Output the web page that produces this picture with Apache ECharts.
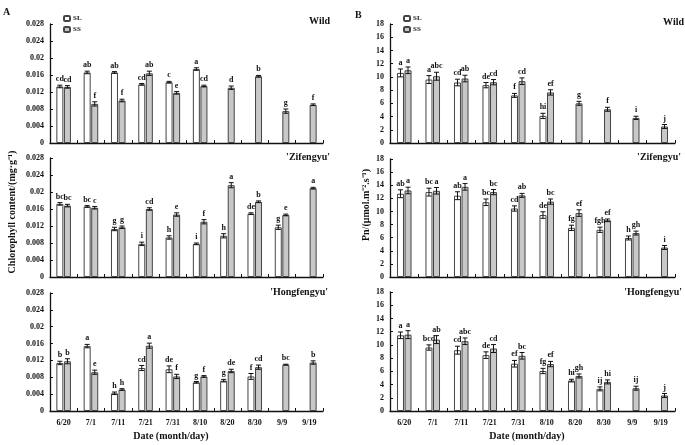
<!DOCTYPE html>
<html><head><meta charset="utf-8">
<script src="https://cdn.jsdelivr.net/npm/echarts@6/dist/echarts.min.js"></script>
<style>html,body{margin:0;padding:0;background:#fff}#c{width:685px;height:445px}</style>
</head><body><div id="c"></div>
<script>
var dates = ['6/20','7/1','7/11','7/21','7/31','8/10','8/20','8/30','9/9','9/19'];
var chlTicks = [0,0.004,0.008,0.012,0.016,0.02,0.024,0.028];
var pnTicks = [0,2,4,6,8,10,12,14,16,18];

// Panel A: chlorophyll content
var chlWildSL = [0.0133,0.0166,0.0166,0.0138,0.0143,0.0174,null,null,null,null];
var chlWildSS = [0.0132,0.0092,0.0100,0.0164,0.0118,0.0134,0.0130,0.0157,0.0075,0.0090];
var chlWildSLErr = [0.0003,0.0003,0.0002,0.0002,0.0002,0.0003,null,null,null,null];
var chlWildSSErr = [0.0003,0.0005,0.0003,0.0005,0.0003,0.0002,0.0004,0.0002,0.0005,0.0002];
var chlWildSLLbl = ['cd','ab','ab','cd','c','a','','','',''];
var chlWildSSLbl = ['cd','f','f','ab','e','cd','d','b','g','f'];

var chlZiSL = [0.0172,0.0166,0.0113,0.0078,0.0093,0.0078,0.0097,0.0149,0.0117,null];
var chlZiSS = [0.0168,0.0163,0.0117,0.0160,0.0147,0.0130,0.0216,0.0177,0.0146,0.0209];
var chlZiSLErr = [0.0003,0.0002,0.0004,0.0004,0.0004,0.0002,0.0005,0.0002,0.0005,null];
var chlZiSSErr = [0.0003,0.0003,0.0003,0.0003,0.0004,0.0005,0.0006,0.0002,0.0002,0.0002];
var chlZiSLLbl = ['bc','bc','g','i','h','i','h','de','g',''];
var chlZiSSLbl = ['bc','c','g','cd','e','f','a','b','e','a'];

var chlHoSL = [0.0114,0.0154,0.0042,0.0102,0.0099,0.0068,0.0072,0.0082,null,null];
var chlHoSS = [0.0118,0.0092,0.0051,0.0155,0.0082,0.0082,0.0095,0.0104,0.0110,0.0115];
var chlHoSLErr = [0.0004,0.0004,0.0003,0.0006,0.0008,0.0002,0.0003,0.0007,null,null];
var chlHoSSErr = [0.0006,0.0005,0.0002,0.0006,0.0005,0.0002,0.0004,0.0005,0.0001,0.0004];
var chlHoSLLbl = ['b','a','h','cd','de','g','g','f','',''];
var chlHoSSLbl = ['b','e','h','a','f','f','de','cd','bc','b'];

// Panel B: net photosynthetic rate
var pnWildSL = [10.6,9.6,9.15,8.75,7.2,4.1,null,null,null,null];
var pnWildSS = [11.0,10.1,9.75,9.2,9.35,7.65,6.0,5.1,3.8,2.5];
var pnWildSLErr = [0.6,0.6,0.5,0.4,0.3,0.4,null,null,null,null];
var pnWildSSErr = [0.5,0.6,0.5,0.4,0.5,0.4,0.3,0.3,0.25,0.3];
var pnWildSLLbl = ['a','a','cd','de','f','hi','','','',''];
var pnWildSSLbl = ['a','abc','ab','cd','cd','ef','g','f','i','j'];

var pnZiSL = [12.7,12.95,12.4,11.4,10.45,9.45,7.5,7.2,5.95,null];
var pnZiSS = [13.2,13.15,13.75,12.95,12.45,11.5,9.75,8.65,6.7,4.5];
var pnZiSLErr = [0.6,0.6,0.6,0.5,0.4,0.5,0.4,0.4,0.3,null];
var pnZiSSErr = [0.5,0.5,0.5,0.4,0.3,0.4,0.5,0.2,0.3,0.3];
var pnZiSLLbl = ['ab','bc','ab','bc','cd','de','fg','fgh','h',''];
var pnZiSSLbl = ['a','a','a','bc','ab','bc','ef','ef','gh','i'];

var pnHoSL = [11.45,9.6,9.2,8.45,7.15,6.05,4.6,3.35,null,null];
var pnHoSS = [11.55,10.8,10.55,9.45,8.35,7.1,5.3,4.4,3.45,2.35];
var pnHoSLErr = [0.5,0.4,0.6,0.5,0.5,0.4,0.2,0.3,null,null];
var pnHoSSErr = [0.6,0.6,0.5,0.6,0.5,0.4,0.3,0.3,0.3,0.3];
var pnHoSLLbl = ['a','bcd','cd','de','ef','fg','hi','ij','',''];
var pnHoSSLbl = ['a','ab','abc','cd','bc','ef','gh','hi','ij','j'];

var FONT = '"Liberation Serif","Times New Roman",serif';
var BW = 7, GAP = 0.08, OFF = (BW + BW*GAP)/2;

var panels = [
  {grid:{left:50,width:273,top:24,height:119}, max:0.028, itv:0.004, lab:false, sl:chlWildSL, ss:chlWildSS, sle:chlWildSLErr, sse:chlWildSSErr, sll:chlWildSLLbl, ssl:chlWildSSLbl},
  {grid:{left:50,width:273,top:158,height:119}, max:0.028, itv:0.004, lab:false, sl:chlZiSL, ss:chlZiSS, sle:chlZiSLErr, sse:chlZiSSErr, sll:chlZiSLLbl, ssl:chlZiSSLbl},
  {grid:{left:50,width:273,top:293,height:118}, max:0.028, itv:0.004, lab:true, sl:chlHoSL, ss:chlHoSS, sle:chlHoSLErr, sse:chlHoSSErr, sll:chlHoSLLbl, ssl:chlHoSSLbl},
  {grid:{left:390,width:285,top:24,height:119}, max:18, itv:2, lab:false, sl:pnWildSL, ss:pnWildSS, sle:pnWildSLErr, sse:pnWildSSErr, sll:pnWildSLLbl, ssl:pnWildSSLbl},
  {grid:{left:390,width:285,top:159,height:118}, max:18, itv:2, lab:false, sl:pnZiSL, ss:pnZiSS, sle:pnZiSLErr, sse:pnZiSSErr, sll:pnZiSLLbl, ssl:pnZiSSLbl},
  {grid:{left:390,width:285,top:292,height:119}, max:18, itv:2, lab:true, sl:pnHoSL, ss:pnHoSS, sle:pnHoSLErr, sse:pnHoSSErr, sll:pnHoSLLbl, ssl:pnHoSSLbl}
];

var grids=[], xAxes=[], yAxes=[], series=[];
function errSeries(gi, vals, errs, lbls, sign){
  var data = [];
  vals.forEach(function(v,i){ if(v!=null) data.push([i, v, errs[i]||0]); });
  return {
    type:'custom', xAxisIndex:gi, yAxisIndex:gi, silent:true, z:5,
    encode:{x:0,y:1},
    data:data,
    renderItem:function(params, api){
      var i = api.value(0), v = api.value(1), e = api.value(2);
      var c = api.coord([i, v]);
      var x = c[0] + sign*OFF;
      var yt = api.coord([i, v+e])[1], yb = api.coord([i, v-e])[1];
      var st = {stroke:'#111', lineWidth:1};
      var ch = [
        {type:'line', shape:{x1:x,y1:yt,x2:x,y2:yb}, style:st},
        {type:'line', shape:{x1:x-2.5,y1:yt,x2:x+2.5,y2:yt}, style:st},
        {type:'line', shape:{x1:x-2.5,y1:yb,x2:x+2.5,y2:yb}, style:st}
      ];
      var t = lbls[i];
      if(t){ ch.push({type:'text', style:{text:t, x:x, y:yt-2, align:'center', verticalAlign:'bottom', font:'bold 8px '+FONT, fill:'#111'}}); }
      return {type:'group', children:ch};
    }
  };
}
panels.forEach(function(p, gi){
  grids.push(p.grid);
  xAxes.push({type:'category', gridIndex:gi, data:dates,
    axisLine:{lineStyle:{color:'#111',width:1.3}},
    axisTick:{show:true, inside:true, length:3, lineStyle:{color:'#111'}},
    axisLabel:{show:p.lab, fontFamily:FONT, fontWeight:'bold', fontSize:8, color:'#111', margin:8}
  });
  yAxes.push({type:'value', gridIndex:gi, min:0, max:p.max, interval:p.itv,
    splitLine:{show:false},
    axisLine:{show:true, lineStyle:{color:'#111',width:1.3}},
    axisTick:{show:true, inside:true, length:3, lineStyle:{color:'#111'}},
    axisLabel:{fontFamily:FONT, fontWeight:'bold', fontSize:8, color:'#111', margin:6}
  });
  series.push({name:'SL', type:'bar', xAxisIndex:gi, yAxisIndex:gi, data:p.sl, barWidth:BW, barGap:(GAP*100)+'%',
    itemStyle:{color:'#ffffff', borderColor:'#444', borderWidth:1}, silent:true});
  series.push({name:'SS', type:'bar', xAxisIndex:gi, yAxisIndex:gi, data:p.ss, barWidth:BW, barGap:(GAP*100)+'%',
    itemStyle:{color:'#c8c8c8', borderColor:'#444', borderWidth:1}, silent:true});
  series.push(errSeries(gi, p.sl, p.sle, p.sll, -1));
  series.push(errSeries(gi, p.ss, p.sse, p.ssl, 1));
});

var tStyle = {fontFamily:FONT, fontWeight:'bold', fontSize:10, color:'#111'};
function txt(t, x, y, align, size, rot){
  return {type:'text', x:x, y:y, rotation:rot||0, style:{text:t, font:'bold '+(size||10)+'px '+FONT, fill:'#111', align:align||'left', verticalAlign:'middle'}};
}
var legendBase = {orient:'vertical', itemWidth:6, itemHeight:5, itemGap:4, selectedMode:false,
  textStyle:{fontFamily:FONT, fontWeight:'bold', fontSize:7, color:'#111', padding:[0,0,0,-2]}, padding:0, data:['SL','SS']};

var option = {
  animation:false,
  grid:grids, xAxis:xAxes, yAxis:yAxes, series:series,
  legend:[
    Object.assign({left:63, top:15}, legendBase),
    Object.assign({left:403, top:15}, legendBase)
  ],
  graphic:[
    txt('A', 3, 12, 'left', 10),
    txt('B', 355, 15, 'left', 10),
    txt('Wild', 330, 21, 'right', 10),
    txt("'Zifengyu'", 330, 157, 'right', 10),
    txt("'Hongfengyu'", 328, 292, 'right', 10),
    txt('Wild', 684, 22, 'right', 10),
    txt("'Zifengyu'", 681, 157, 'right', 10),
    txt("'Hongfengyu'", 682, 292, 'right', 10),
    txt('Date (month/day)', 171, 436, 'center', 10),
    txt('Date (month/day)', 527, 436, 'center', 10),
    {type:'text', x:12, y:212, rotation:Math.PI/2, style:{text:'Chlorophyll content/(mg·g⁻¹)', font:'bold 10px '+FONT, fill:'#111', align:'center', verticalAlign:'middle'}},
    {type:'text', x:366, y:205, rotation:Math.PI/2, style:{text:'Pn/(μmol.m⁻².s⁻¹)', font:'bold 10px '+FONT, fill:'#111', align:'center', verticalAlign:'middle'}}
  ]
};
var chart = echarts.init(document.getElementById('c'), null, {renderer:'canvas'});
chart.setOption(option);
</script></body></html>
